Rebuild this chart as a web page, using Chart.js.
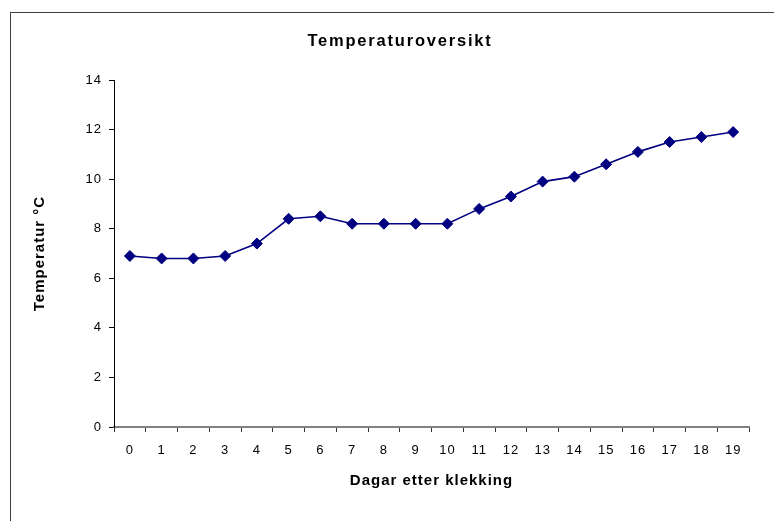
<!DOCTYPE html>
<html>
<head>
<meta charset="utf-8">
<script src="https://cdn.jsdelivr.net/npm/chart.js@4.4.1/dist/chart.umd.min.js"></script>
<style>
  body { margin: 0; background: #fff; }
  canvas { display: block; }
</style>
</head>
<body>
<canvas id="tempChart" width="774" height="521"></canvas>
<script>
const chartTitle = "Temperaturoversikt"
const xTitle = "Dagar etter klekking"
const yTitle = "Temperatur °C"

const days = ["0", "1", "2", "3", "4", "5", "6", "7", "8", "9", "10",
  "11", "12", "13", "14", "15", "16", "17", "18", "19"]
const temps = [6.9, 6.8, 6.8, 6.9, 7.4, 8.4, 8.5, 8.2, 8.2, 8.2, 8.2,
  8.8, 9.3, 9.9, 10.1, 10.6, 11.1, 11.5, 11.7, 11.9]
const yMin = 0
const yMax = 14
const yStep = 2

const FONT = "'Liberation Sans', Arial, sans-serif"

// excel-ish look: frame round the chart, spaced text, title off-centre
const excelLook = {
  id: 'excelLook',
  beforeLayout(chart) {
    chart.ctx.letterSpacing = '1px'
  },
  beforeDraw(chart) {
    const ctx = chart.ctx
    ctx.letterSpacing = '1px'
    ctx.save()
    ctx.strokeStyle = '#404040'
    ctx.lineWidth = 1
    ctx.strokeRect(10.5, 12.5, 800, 600)
    ctx.restore()
  },
  afterDraw(chart) {
    const ctx = chart.ctx
    ctx.save()
    ctx.letterSpacing = '1.8px'
    ctx.font = `bold 16.5px ${FONT}`
    ctx.fillStyle = '#000'
    ctx.textAlign = 'center'
    ctx.textBaseline = 'middle'
    ctx.fillText(chartTitle, 400, 41)
    ctx.restore()
  }
}

new Chart(document.getElementById('tempChart'), {
  type: 'line',
  data: {
    labels: days,
    datasets: [{
      label: yTitle,
      data: temps,
      borderColor: '#000080',
      backgroundColor: '#000080',
      borderWidth: 1.6,
      tension: 0,
      pointStyle: 'rectRot',
      pointRadius: 5.5,
      pointBackgroundColor: '#000080',
      pointBorderColor: '#000080',
      pointBorderWidth: 1
    }]
  },
  options: {
    responsive: false,
    animation: false,
    layout: {
      padding: { top: 80, right: 25, left: 0, bottom: 0 }
    },
    plugins: {
      legend: { display: false },
      title: { display: false },
      tooltip: { enabled: false }
    },
    scales: {
      x: {
        offset: true,
        afterFit: s => { s.height = 94 },
        grid: {
          offset: true,
          drawOnChartArea: false,
          drawTicks: true,
          tickLength: 5,
          color: '#333'
        },
        border: { color: '#808080', width: 2 },
        ticks: {
          color: '#000',
          padding: 11,
          maxRotation: 0,
          autoSkip: false,
          font: { family: FONT, size: 13 }
        },
        title: {
          display: true,
          text: xTitle,
          color: '#000',
          padding: { top: 31, bottom: 31 },
          font: { family: FONT, size: 15, weight: 'bold' }
        }
      },
      y: {
        min: yMin,
        max: yMax,
        afterFit: s => { s.width = 114 },
        grid: {
          drawOnChartArea: false,
          drawTicks: true,
          tickLength: 5,
          color: '#000'
        },
        border: { color: '#000', width: 1 },
        ticks: {
          stepSize: yStep,
          color: '#000',
          padding: 7,
          font: { family: FONT, size: 13 }
        },
        title: {
          display: true,
          text: yTitle,
          color: '#000',
          padding: { top: 31, bottom: 31 },
          font: { family: FONT, size: 15, weight: 'bold' }
        }
      }
    }
  },
  plugins: [excelLook]
})
</script>
</body>
</html>
